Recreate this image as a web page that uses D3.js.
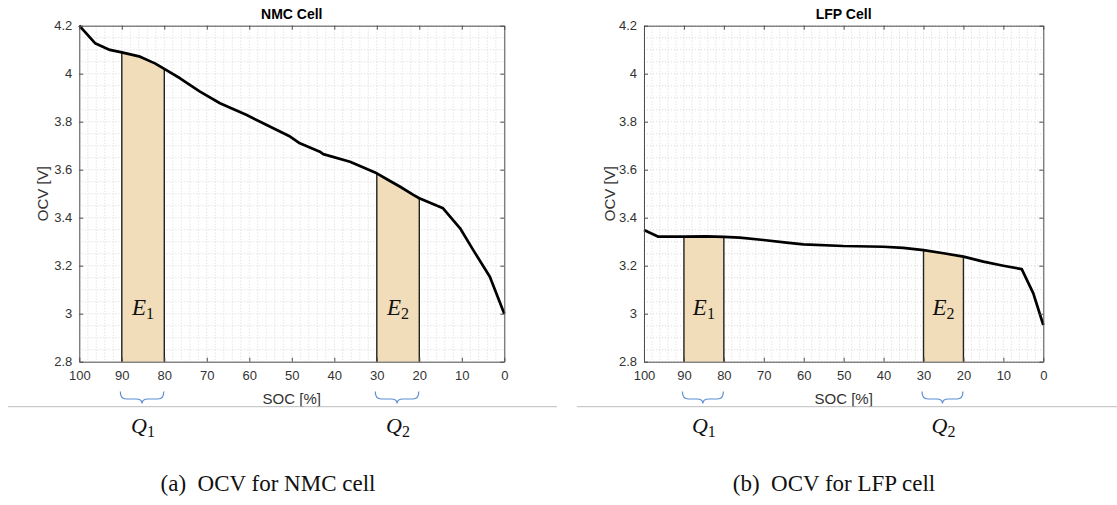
<!DOCTYPE html>
<html>
<head>
<meta charset="utf-8">
<script src="https://cdn.jsdelivr.net/npm/d3@7"></script>
<style>
  body { margin: 0; background: #fff; }
  svg { display: block; }
  .tick text { font-family: "Liberation Sans", Arial, sans-serif; }
</style>
</head>
<body>
<div id="chart"></div>
<script>
// tick values
var socTicks = [100, 90, 80, 70, 60, 50, 40, 30, 20, 10, 0];
var ocvTicks = [2.8, 3.0, 3.2, 3.4, 3.6, 3.8, 4.0, 4.2];

// NMC cell OCV curve (SOC %, volts)
var nmcSoc = [100, 96.3, 92.8, 90, 85.7, 82.2, 80, 76.3, 71.6, 66.9, 60.6, 55.9, 50.4, 48.1, 43.4, 42.6, 36.3, 30, 27.3, 24.5, 21.4, 20, 14.4, 10.4, 7.3, 3.4, 0];
var nmcOcv = [4.2, 4.127, 4.099, 4.089, 4.071, 4.043, 4.020, 3.981, 3.925, 3.877, 3.828, 3.786, 3.738, 3.710, 3.675, 3.665, 3.633, 3.585, 3.557, 3.529, 3.495, 3.481, 3.439, 3.356, 3.265, 3.154, 3.0];

// LFP cell OCV curve
var lfpSoc = [100, 96.4, 90, 84.3, 80, 76, 70.1, 64.3, 60.1, 50.1, 40.1, 35.1, 30, 25, 20, 15, 10, 5.4, 2.5, 0];
var lfpOcv = [3.349, 3.321, 3.321, 3.322, 3.320, 3.317, 3.307, 3.296, 3.289, 3.282, 3.279, 3.274, 3.265, 3.252, 3.238, 3.217, 3.200, 3.186, 3.085, 2.953];

// shaded SOC windows and their labels
var bandFrom = [90, 30];
var bandTo = [80, 20];
var bandNames = ["1", "2"];

var titles = ["NMC Cell", "LFP Cell"];
var captions = ["(a)\u00a0 OCV for NMC cell", "(b)\u00a0 OCV for LFP cell"];

var svgWidth = 1117;
var svgHeight = 505;

var svg = d3.select("#chart")
  .append("svg")
  .attr("width", svgWidth)
  .attr("height", svgHeight);

var panels = [
  { left: 79.3, right: 504.3, soc: nmcSoc, ocv: nmcOcv, title: titles[0], caption: captions[0],
    ylabX: 43, capX: 268, lineX: [8, 557] },
  { left: 644, right: 1043.3, soc: lfpSoc, ocv: lfpOcv, title: titles[1], caption: captions[1],
    ylabX: 610, capX: 834, lineX: [577, 1117] }
];

var plotTop = 25.7, plotBottom = 361.7;
var axisColor = "#4d4d4d";
var textColor = "#333";

panels.forEach(function(p) {
  var x = d3.scaleLinear().domain([100, 0]).range([p.left, p.right]);
  var y = d3.scaleLinear().domain([2.8, 4.2]).range([plotBottom, plotTop]);
  var g = svg.append("g");

  var pts = p.soc.map(function(s, i) { return { soc: s, ocv: p.ocv[i] }; });

  // minor grid
  var minorX = d3.range(0, 101, 2);
  var minorY = d3.range(2.8, 4.2001, 0.05);
  g.append("g").selectAll("line").data(minorX).enter().append("line")
    .attr("x1", d => x(d)).attr("x2", d => x(d))
    .attr("y1", plotTop).attr("y2", plotBottom)
    .attr("stroke", "#cfcfcf").attr("stroke-width", 0.8)
    .attr("stroke-dasharray", "1,2");
  g.append("g").selectAll("line").data(minorY).enter().append("line")
    .attr("x1", p.left).attr("x2", p.right)
    .attr("y1", d => y(d)).attr("y2", d => y(d))
    .attr("stroke", "#cfcfcf").attr("stroke-width", 0.8)
    .attr("stroke-dasharray", "1,2");

  // shaded windows
  var area = d3.area()
    .x(d => x(d.soc))
    .y0(y(2.8))
    .y1(d => y(d.ocv));
  bandFrom.forEach(function(hi, i) {
    var lo = bandTo[i];
    var seg = pts.filter(d => d.soc <= hi && d.soc >= lo);
    g.append("path").datum(seg)
      .attr("d", area)
      .attr("fill", "#f2ddba");
    [seg[0], seg[seg.length - 1]].forEach(function(d) {
      g.append("line")
        .attr("x1", x(d.soc)).attr("x2", x(d.soc))
        .attr("y1", y(2.8)).attr("y2", y(d.ocv))
        .attr("stroke", "#222").attr("stroke-width", 1.4);
    });
    var lbl = g.append("text")
      .attr("x", x((hi + lo) / 2))
      .attr("y", 315)
      .attr("text-anchor", "middle")
      .attr("font-family", "Liberation Serif, serif")
      .attr("font-size", 23)
      .attr("fill", "#111");
    lbl.append("tspan").attr("font-style", "italic").text("E");
    lbl.append("tspan").attr("font-size", 16).attr("dy", 4).text(bandNames[i]);

    // brace under the axis
    var xa = x(hi) - 1.5, xb = x(lo) - 0.5, xm = (xa + xb) / 2;
    var yt = 391.5, ym = 399, yb = 403.5, r = 6;
    g.append("path")
      .attr("d", `M${xa},${yt} Q${xa},${ym} ${xa + r},${ym} L${xm - r},${ym} Q${xm},${ym} ${xm},${yb} Q${xm},${ym} ${xm + r},${ym} L${xb - r},${ym} Q${xb},${ym} ${xb},${yt}`)
      .attr("fill", "none")
      .attr("stroke", "#5b8fd4")
      .attr("stroke-width", 1.2);

    var q = g.append("text")
      .attr("x", xm + 1)
      .attr("y", 433)
      .attr("text-anchor", "middle")
      .attr("font-family", "Liberation Serif, serif")
      .attr("font-size", 22)
      .attr("fill", "#111");
    q.append("tspan").attr("font-style", "italic").text("Q");
    q.append("tspan").attr("font-size", 16).attr("dy", 4).text(bandNames[i]);
  });

  // OCV curve
  var line = d3.line()
    .x(d => x(d.soc))
    .y(d => y(d.ocv));
  g.append("path").datum(pts)
    .attr("d", line)
    .attr("fill", "none")
    .attr("stroke", "#000")
    .attr("stroke-width", 2.7)
    .attr("stroke-linejoin", "round");

  // axes, ticks inside on all four sides
  var fmt = d3.format("~g");
  var axB = g.append("g").attr("transform", `translate(0, ${plotBottom})`)
    .call(d3.axisBottom(x).tickValues(socTicks).tickSizeInner(-4).tickSizeOuter(0).tickPadding(10).tickFormat(fmt));
  var axT = g.append("g").attr("transform", `translate(0, ${plotTop})`)
    .call(d3.axisTop(x).tickValues(socTicks).tickSizeInner(-4).tickSizeOuter(0).tickFormat(""));
  var axL = g.append("g").attr("transform", `translate(${p.left}, 0)`)
    .call(d3.axisLeft(y).tickValues(ocvTicks).tickSizeInner(-4).tickSizeOuter(0).tickPadding(10).tickFormat(fmt));
  var axR = g.append("g").attr("transform", `translate(${p.right}, 0)`)
    .call(d3.axisRight(y).tickValues(ocvTicks).tickSizeInner(-4).tickSizeOuter(0).tickFormat(""));
  [axB, axT, axL, axR].forEach(function(a) {
    a.select(".domain").attr("stroke", axisColor);
    a.selectAll(".tick line").attr("stroke", axisColor);
    a.selectAll(".tick text").attr("fill", textColor).attr("font-size", 13);
  });
  axB.selectAll(".tick text").attr("dy", "0.71em").attr("y", 9);
  axL.selectAll(".tick text").attr("x", -7);

  // title and axis labels
  g.append("text")
    .attr("x", (p.left + p.right) / 2)
    .attr("y", 19)
    .attr("text-anchor", "middle")
    .attr("font-family", "Liberation Sans, Arial, sans-serif")
    .attr("font-weight", "bold")
    .attr("font-size", 14)
    .attr("fill", "#000")
    .text(p.title);

  g.append("text")
    .attr("x", (p.left + p.right) / 2)
    .attr("y", 404)
    .attr("text-anchor", "middle")
    .attr("font-family", "Liberation Sans, Arial, sans-serif")
    .attr("font-size", 15)
    .attr("fill", textColor)
    .text("SOC [%]");

  g.append("text")
    .attr("transform", `translate(${p.ylabX}, ${(plotTop + plotBottom) / 2}) rotate(-90)`)
    .attr("text-anchor", "middle")
    .attr("dy", "0.35em")
    .attr("font-family", "Liberation Sans, Arial, sans-serif")
    .attr("font-size", 15)
    .attr("fill", textColor)
    .text("OCV [V]");

  // separator line and caption
  g.append("line")
    .attr("x1", p.lineX[0]).attr("x2", p.lineX[1])
    .attr("y1", 406.7).attr("y2", 406.7)
    .attr("stroke", "#bdbdbd").attr("stroke-width", 1);

  g.append("text")
    .attr("x", p.capX)
    .attr("y", 491)
    .attr("text-anchor", "middle")
    .attr("font-family", "Liberation Serif, serif")
    .attr("font-size", 23)
    .attr("fill", "#111")
    .text(p.caption);
});
</script>
</body>
</html>
